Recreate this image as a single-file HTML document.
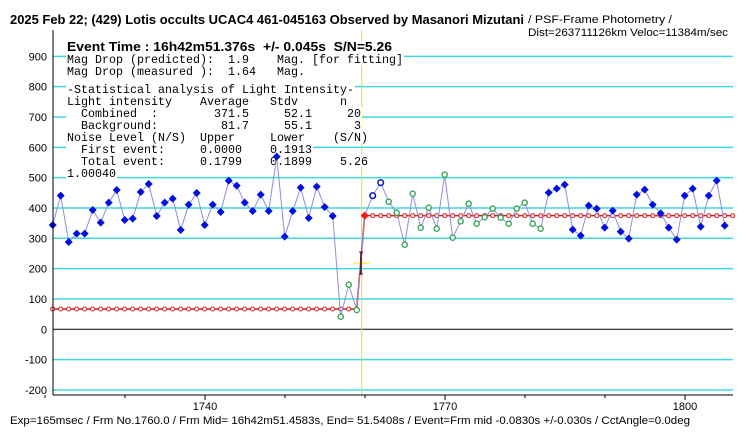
<!DOCTYPE html>
<html><head><meta charset="utf-8"><style>
html,body{margin:0;padding:0;background:#fff;width:754px;height:439px;overflow:hidden}
svg{display:block}
#txt text{white-space:pre}
</style></head><body>
<svg id="s" width="754" height="439" xmlns="http://www.w3.org/2000/svg" font-family="Liberation Sans, sans-serif">
<text x="10" y="24" font-size="13" font-weight="bold" textLength="514" lengthAdjust="spacingAndGlyphs">2025 Feb 22; (429) Lotis occults UCAC4 461-045163 Observed by Masanori Mizutani</text>
<text x="528" y="23" font-size="11" textLength="144" lengthAdjust="spacingAndGlyphs">/ PSF-Frame Photometry /</text>
<text x="528" y="36" font-size="11" textLength="200" lengthAdjust="spacingAndGlyphs">Dist=263711126km Veloc=11384m/sec</text>
<g id="grid"></g>
<g id="bg"></g>
<g id="txt" font-family="Liberation Mono, monospace" font-size="11.6"></g>
<g id="data"></g>
<line x1="53" y1="30" x2="53" y2="395" stroke="#000"/>
<line x1="53" y1="395" x2="733" y2="395" stroke="#000"/>
<g id="ticks" font-size="11"></g>
<text x="10" y="424" font-size="11" textLength="680" lengthAdjust="spacingAndGlyphs">Exp=165msec / Frm No.1760.0 / Frm Mid= 16h42m51.4583s,  End= 51.5408s / Event=Frm mid -0.0830s +/-0.030s / CctAngle=0.0deg</text>
</svg>
<script>
const NS="http://www.w3.org/2000/svg";
function el(p,t,a,txt){const e=document.createElementNS(NS,t);for(const k in a)e.setAttribute(k,a[k]);if(txt!=null)e.textContent=txt;document.getElementById(p).appendChild(e);return e;}
const Y=v=>329.3-0.3033*v;
for(let v=900;v>=-200;v-=100){
  const y=Y(v);
  el('grid','line',{x1:53,y1:y,x2:733,y2:y,stroke:v==0?'#000':'#40d8e0','stroke-width':v==0?1:1.5});
  el('grid','text',{x:47,y:y+4,'font-size':11,'text-anchor':'end'},String(v));
}
el('grid','line',{x1:361.7,y1:30,x2:361.7,y2:395,stroke:'#f0e000','stroke-width':1});
const lines=[
[47,"Event Time : 16h42m51.376s  +/- 0.045s  S/N=5.26",true],
[59,"Mag Drop (predicted):  1.9    Mag. [for fitting]"],
[71,"Mag Drop (measured ):  1.64   Mag."],
[89,"-Statistical analysis of Light Intensity-"],
[101,"Light intensity    Average   Stdv      n"],
[113,"  Combined  :        371.5     52.1     20"],
[125,"  Background:         81.7     55.1      3"],
[137,"Noise Level (N/S)  Upper     Lower    (S/N)"],
[149,"  First event:     0.0000    0.1913"],
[161,"  Total event:     0.1799    0.1899    5.26"],
[173,"1.00040"]];
for(const [y,s,b] of lines){
  const w=s.replace(/\s+$/,'').length*7;
  el('bg','rect',{x:66,y:y-6,width:(b?330:w+2),height:12,fill:'#fff'});
  const a={x:67,y:y+4,textLength:w,lengthAdjust:'spacingAndGlyphs',style:'white-space:pre'};
  if(b){a['font-weight']='bold';a['font-family']='Liberation Sans, sans-serif';a['font-size']=13;a.textLength=325;}
  el('txt','text',a,s);
}
const Z=z=>150+z/3;
const L=[225,137,276,251,251,180,218,158,120,210,206,126,102,198,158,146,240,164,129,225,164,186,92,107,158,183,134,183,20,260,183,113,204,110,171,198];
const LG=[500,404,480];
const R=[[137,'o'],[98,'o'],[155,'g'],[188,'g'],[284,'g'],[131,'g'],[233,'g'],[173,'g'],[236,'g'],[74,'g'],[263,'g'],[214,'g'],[161,'g'],[221,'g'],[202,'g'],[176,'g'],[203,'g'],[221,'g'],[176,'g'],[158,'g'],[221,'g'],[236,'g'],
[128,'b'],[116,'b'],[104,'b'],[239,'b'],[257,'b'],[167,'b'],[176,'b'],[233,'b'],[182,'b'],[245,'b'],[266,'b'],[134,'b'],[119,'b'],[164,'b'],[190,'b'],[233,'b'],[269,'b'],[137,'b'],[116,'b'],[230,'b'],[137,'b'],[92,'b'],[227,'b']];
const pts=[];
L.forEach(z=>pts.push([z,'b']));LG.forEach(z=>pts.push([z,'g']));pts.push([197,'r']);R.forEach(p=>pts.push(p));
const xy=pts.map((p,i)=>[52.7+8*i,Z(p[0]),p[1]]);
const lo=Z(477),hi=Z(197);
let d='M52.7 '+lo+' L356.7 '+lo+' L364.7 '+hi+' L733 '+hi;
el('data','path',{d:d,fill:'none',stroke:'#d02020','stroke-width':1.5});
for(let i=0;i<86;i++){const x=52.7+8*i;el('data','circle',{cx:x,cy:x<360?lo:hi,r:2,fill:'#fff',stroke:'#d02020','stroke-width':1});}
el('data','polyline',{points:xy.map(p=>p[0]+','+p[1]).join(' '),fill:'none',stroke:'#8c8cdc','stroke-width':1});
el('data','line',{x1:353,y1:263,x2:369,y2:263,stroke:'#f0e000'});
el('data','line',{x1:361,y1:252,x2:361,y2:274,stroke:'#400040','stroke-width':1.5});
el('data','line',{x1:359,y1:252,x2:363,y2:252,stroke:'#400040'});
el('data','line',{x1:359,y1:274,x2:363,y2:274,stroke:'#400040'});
for(const [x,y,t] of xy){
  if(t=='b')el('data','path',{d:`M${x} ${y-4}L${x+4} ${y}L${x} ${y+4}L${x-4} ${y}Z`,fill:'#0010e0'});
  else if(t=='g')el('data','circle',{cx:x,cy:y,r:2.6,fill:'#fff',stroke:'#30a050','stroke-width':1.3});
  else if(t=='o')el('data','circle',{cx:x,cy:y,r:2.8,fill:'#fff',stroke:'#0010c0','stroke-width':1.5});
  else el('data','path',{d:`M${x} ${y-4}L${x+4} ${y}L${x} ${y+4}L${x-4} ${y}Z`,fill:'#ff1010'});
}
for(let x=45;x<=733;x+=80){
  const major=(x-205)%240==0;
  el('ticks','line',{x1:x,y1:395,x2:x,y2:major?400:398,stroke:'#000'});
  if(major)el('ticks','text',{x:x,y:410,'text-anchor':'middle'},String(1740+(x-205)/8));
}
</script>
</body></html>
